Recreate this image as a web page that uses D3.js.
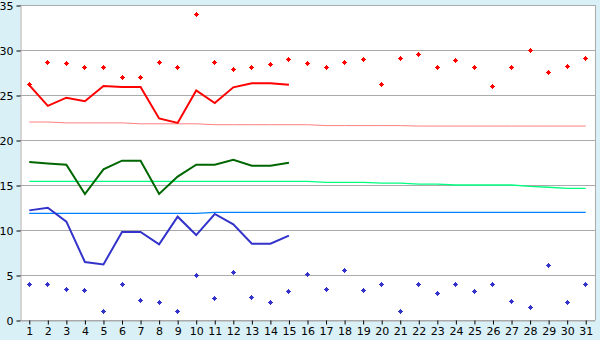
<!DOCTYPE html>
<html>
<head>
<meta charset="utf-8">
<script src="https://cdn.jsdelivr.net/npm/d3@7"></script>
<style>
  body { margin: 0; background: #d9f0f7; }
  svg text { font-family: "DejaVu Sans", sans-serif; font-size: 11px; fill: #000; }
</style>
</head>
<body>
<div id="chart"></div>
<script>
var days = d3.range(1, 32)
var yTicks = [0, 5, 10, 15, 20, 25, 30, 35]

// daily max / mean / min (days 1-15)
var maxT = [26.1, 23.8, 24.7, 24.3, 26.0, 25.9, 25.9, 22.4, 21.9, 25.5, 24.1, 25.85, 26.3, 26.3, 26.15]
var meanT = [17.55, 17.4, 17.26, 14.0, 16.74, 17.7, 17.7, 14.0, 15.93, 17.26, 17.26, 17.8, 17.15, 17.15, 17.48]
var minT = [12.18, 12.48, 10.93, 6.44, 6.18, 9.78, 9.78, 8.4, 11.48, 9.44, 11.78, 10.63, 8.48, 8.48, 9.37]

// record high / low per day
var recHigh = [26.2, 28.6, 28.55, 28.0, 28.0, 27.0, 27.0, 28.6, 28.0, 34.0, 28.6, 27.85, 28.0, 28.4, 28.95,
  28.5, 28.0, 28.6, 28.95, 26.2, 29.0, 29.5, 28.0, 28.85, 28.0, 25.95, 28.0, 29.95, 27.5, 28.2, 29.0]
var recLow = [4.0, 4.0, 3.4, 3.3, 1.0, 4.0, 2.2, 2.0, 1.0, 4.9, 2.4, 5.3, 2.5, 2.0, 3.2,
  5.1, 3.4, 5.5, 3.3, 4.0, 0.9, 4.0, 3.0, 4.0, 3.2, 4.0, 2.1, 1.4, 6.0, 2.0, 4.0]

// normals
var normMax = [22.0, 22.0, 21.9, 21.9, 21.9, 21.9, 21.8, 21.8, 21.8, 21.8, 21.7, 21.7, 21.7, 21.7, 21.7, 21.7,
  21.6, 21.6, 21.6, 21.6, 21.6, 21.55, 21.55, 21.55, 21.55, 21.55, 21.55, 21.55, 21.55, 21.55, 21.55]
var normMean = [15.4, 15.4, 15.4, 15.4, 15.4, 15.4, 15.4, 15.4, 15.4, 15.4, 15.4, 15.4, 15.4, 15.4, 15.4, 15.4,
  15.3, 15.3, 15.3, 15.2, 15.2, 15.1, 15.1, 15.0, 15.0, 15.0, 15.0, 14.85, 14.75, 14.62, 14.62]
var normMin = [11.85, 11.85, 11.85, 11.85, 11.85, 11.85, 11.85, 11.85, 11.85, 11.85, 11.95, 11.95, 11.95, 11.95, 11.95, 11.95,
  11.95, 11.95, 11.95, 11.95, 11.95, 11.95, 11.95, 11.95, 11.95, 11.95, 11.95, 11.95, 11.95, 11.95, 11.95]

var W = 600, H = 340
var pLeft = 20, pRight = 595, pTop = 5, pBottom = 320

var svg = d3.select("#chart")
    .append("svg")
    .attr("width", W)
    .attr("height", H)
    .style("display", "block")

svg.append("rect")
    .attr("width", W).attr("height", H)
    .attr("fill", "#d9f0f7")

svg.append("rect")
    .attr("x", pLeft).attr("y", pTop)
    .attr("width", pRight - pLeft).attr("height", pBottom - pTop)
    .attr("fill", "#fff")

var x = d3.scalePoint().domain(days).range([pLeft, pRight]).padding(0.5)
var y = d3.scaleLinear().domain([0, 35]).range([pBottom, pTop])

// grid
svg.append("g")
    .selectAll("line")
    .data(yTicks)
    .join("line")
    .attr("x1", pLeft).attr("x2", pRight)
    .attr("y1", function (d) { return y(d) + 0.5 })
    .attr("y2", function (d) { return y(d) + 0.5 })
    .attr("stroke", "#aaa")

// right border
svg.append("line")
    .attr("x1", pRight + 0.5).attr("x2", pRight + 0.5)
    .attr("y1", pTop).attr("y2", pBottom)
    .attr("stroke", "#aaa")

// y axis
var yAxis = svg.append("g")
    .attr("transform", "translate(" + (pLeft + 0.5) + ",0.5)")
    .call(d3.axisLeft(y).tickValues(yTicks).tickSize(4).tickPadding(3).tickSizeOuter(0))
yAxis.select(".domain").attr("stroke", "#aaa")
yAxis.selectAll(".tick line").attr("stroke", "#000")

// x axis
var xAxis = svg.append("g")
    .attr("transform", "translate(0," + (pBottom + 0.5) + ")")
    .call(d3.axisBottom(x).tickSize(4).tickPadding(3).tickSizeOuter(0))
xAxis.select(".domain").attr("stroke", "#aaa")
xAxis.selectAll(".tick line").attr("stroke", "#000")
svg.selectAll(".tick text").style("font-family", "DejaVu Sans, sans-serif").style("font-size", "11px")

var line = d3.line()
    .x(function (d, i) { return x(days[i]) })
    .y(function (d) { return y(d) })

// normals
svg.append("path").datum(normMax).attr("d", line)
    .attr("fill", "none").attr("stroke", "#ff8080").attr("stroke-width", 1)
svg.append("path").datum(normMean).attr("d", line)
    .attr("fill", "none").attr("stroke", "#00ff80").attr("stroke-width", 1.3)
svg.append("path").datum(normMin).attr("d", line)
    .attr("fill", "none").attr("stroke", "#0080ff").attr("stroke-width", 1.3)

// daily lines
svg.append("path").datum(maxT).attr("d", line)
    .attr("fill", "none").attr("stroke", "#ff0000").attr("stroke-width", 2)
svg.append("path").datum(meanT).attr("d", line)
    .attr("fill", "none").attr("stroke", "#006600").attr("stroke-width", 2)
svg.append("path").datum(minT).attr("d", line)
    .attr("fill", "none").attr("stroke", "#3333cc").attr("stroke-width", 2)

// record markers: small pixel diamond
var marker = "M-0.5,-2.5h1v1h1v1h1v1h-1v1h-1v1h-1v-1h-1v-1h-1v-1h1v-1h1z"

svg.append("g")
    .selectAll("path")
    .data(recHigh)
    .join("path")
    .attr("d", marker)
    .attr("shape-rendering", "crispEdges")
    .attr("transform", function (d, i) { return "translate(" + (Math.floor(x(days[i])) + 0.5) + "," + (Math.floor(y(d)) + 0.5) + ")" })
    .attr("fill", "#ff0000")

svg.append("g")
    .selectAll("path")
    .data(recLow)
    .join("path")
    .attr("d", marker)
    .attr("shape-rendering", "crispEdges")
    .attr("transform", function (d, i) { return "translate(" + (Math.floor(x(days[i])) + 0.5) + "," + (Math.floor(y(d)) + 0.5) + ")" })
    .attr("fill", "#3333cc")
</script>
</body>
</html>
